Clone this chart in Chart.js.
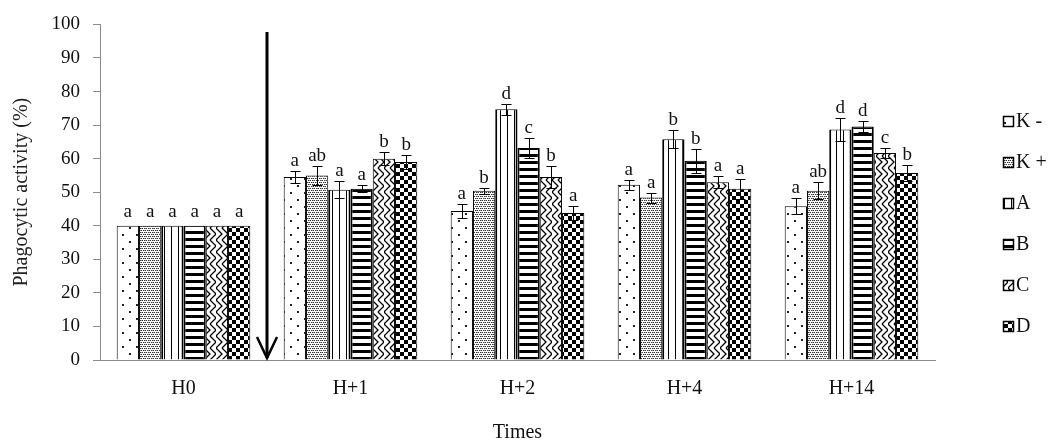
<!DOCTYPE html>
<html><head><meta charset="utf-8">
<script src="https://cdn.jsdelivr.net/npm/chart.js@4.4.1/dist/chart.umd.min.js"></script>
<style>html,body{margin:0;padding:0;background:#fff;} #wrap{width:1064px;height:447px;position:relative;}</style>
</head><body><div id="wrap"><canvas id="c" width="1064" height="447"></canvas></div>
<script>
const categories = ['H0', 'H+1', 'H+2', 'H+4', 'H+14'];
const seriesNames = ['K -', 'K +', 'A', 'B', 'C', 'D'];
const valuesKneg = [40, 54.5, 44.4, 52.2, 45.8];
const valuesKpos = [40, 55, 50.4, 48.4, 50.4];
const valuesA = [40, 50.7, 74.7, 65.8, 68.7];
const valuesB = [40, 51, 63.2, 59.4, 69.6];
const valuesC = [40, 60, 54.5, 53, 61.7];
const valuesD = [40, 59, 43.8, 51, 55.7];
const errKneg = [0, 1.8, 2, 1.5, 2.4];
const errKpos = [0, 2.8, 1, 1.5, 2.5];
const errA = [0, 2.5, 1.7, 2.7, 3.3];
const errB = [0, 1, 3, 3.6, 1.7];
const errC = [0, 2, 3.3, 1.8, 1.5];
const errD = [0, 2, 2, 3, 2.4];
const lettersKneg = ['a', 'a', 'a', 'a', 'a'];
const lettersKpos = ['a', 'ab', 'b', 'a', 'ab'];
const lettersA = ['a', 'a', 'd', 'b', 'd'];
const lettersB = ['a', 'a', 'c', 'b', 'd'];
const lettersC = ['a', 'b', 'b', 'a', 'c'];
const lettersD = ['a', 'b', 'a', 'a', 'b'];
const yTicks = [0, 10, 20, 30, 40, 50, 60, 70, 80, 90, 100];
const arrowTopValue = 97.7;

const SERIF = '"Liberation Serif", "Times New Roman", serif';
const mainCtx = document.getElementById('c').getContext('2d');

function makePattern(w, h, draw) {
  const c = document.createElement('canvas');
  c.width = w; c.height = h;
  const g = c.getContext('2d');
  g.fillStyle = '#fff'; g.fillRect(0, 0, w, h);
  g.fillStyle = '#000'; g.strokeStyle = '#000';
  draw(g);
  return mainCtx.createPattern(c, 'repeat');
}
const patKneg = makePattern(14, 14, g => { g.fillStyle = '#222'; g.fillRect(3, 3, 2, 2); g.fillRect(10, 10, 2, 2); });
const patKpos = makePattern(4, 4, g => { g.fillStyle = '#333'; g.fillRect(0, 0, 1, 1); g.fillRect(2, 0, 1, 1); g.fillRect(1, 2, 1, 1); g.fillRect(3, 2, 1, 1); g.fillStyle = '#999'; g.fillRect(1, 0, 1, 1); g.fillRect(0, 2, 1, 1); });
const patA = makePattern(7, 4, g => { g.fillRect(3, 0, 1, 4); });
const patB = makePattern(4, 7, g => { g.fillRect(0, 0, 4, 3); });
const patC = makePattern(12, 12, g => {
  g.lineWidth = 1.3;
  g.beginPath(); g.moveTo(0, 0); g.lineTo(6, 6); g.lineTo(0, 12);
  g.moveTo(6, 0); g.lineTo(12, 6); g.lineTo(6, 12); g.stroke();
});
const patD = makePattern(8, 8, g => { g.fillRect(0, 0, 4, 4); g.fillRect(4, 4, 4, 4); });

const seriesValues = [valuesKneg, valuesKpos, valuesA, valuesB, valuesC, valuesD];
const seriesErrors = [errKneg, errKpos, errA, errB, errC, errD];
const seriesLetters = [lettersKneg, lettersKpos, lettersA, lettersB, lettersC, lettersD];
const seriesPatterns = [patKneg, patKpos, patA, patB, patC, patD];

const datasets = seriesNames.map((name, i) => ({
  label: name,
  data: seriesValues[i],
  errors: seriesErrors[i],
  letters: seriesLetters[i],
  backgroundColor: seriesPatterns[i],
  borderColor: '#000',
  borderWidth: (i === 3 || i === 2) ? {left: 2, right: 2, top: 1, bottom: 0} : 1,
  borderSkipped: 'start',
  barPercentage: 1,
  categoryPercentage: 0.80
}));

const errPlugin = {
  id: 'errs',
  afterDatasetsDraw(chart) {
    const ctx = chart.ctx, ys = chart.scales.y;
    ctx.save();
    ctx.strokeStyle = '#000'; ctx.lineWidth = 1;
    ctx.fillStyle = '#111';
    ctx.font = '19px ' + SERIF;
    ctx.textAlign = 'center'; ctx.textBaseline = 'alphabetic';
    chart.data.datasets.forEach((ds, i) => {
      const meta = chart.getDatasetMeta(i);
      meta.data.forEach((bar, j) => {
        const v = ds.data[j], e = ds.errors[j];
        const x = Math.round(bar.x) + 0.5;
        const top = Math.round(ys.getPixelForValue(v + e)) + 0.5;
        const bot = Math.round(ys.getPixelForValue(v - e)) + 0.5;
        if (e > 0) {
          ctx.beginPath();
          ctx.moveTo(x, top); ctx.lineTo(x, bot);
          ctx.moveTo(x - 5, top); ctx.lineTo(x + 5, top);
          ctx.moveTo(x - 5, bot); ctx.lineTo(x + 5, bot);
          ctx.stroke();
        }
        ctx.fillText(ds.letters[j], bar.x, top - (e > 0 ? 6 : 10));
      });
    });
    ctx.restore();
  }
};

const arrowPlugin = {
  id: 'arrow',
  afterDraw(chart) {
    const ctx = chart.ctx, xs = chart.scales.x, ys = chart.scales.y;
    const x = Math.round((xs.getPixelForValue(0) + xs.getPixelForValue(1)) / 2);
    const y1 = ys.getPixelForValue(arrowTopValue);
    const y2 = ys.getPixelForValue(0) - 2;
    ctx.save();
    ctx.strokeStyle = '#000'; ctx.lineWidth = 3;
    ctx.beginPath(); ctx.moveTo(x, y1); ctx.lineTo(x, y2); ctx.stroke();
    ctx.lineWidth = 2.5;
    ctx.beginPath(); ctx.moveTo(x - 10, y2 - 21); ctx.lineTo(x, y2); ctx.lineTo(x + 10, y2 - 21); ctx.stroke();
    ctx.restore();
  }
};

const legendPlugin = {
  id: 'patLegend',
  afterDraw(chart) {
    const ctx = chart.ctx;
    const n = chart.data.datasets.length, gap = 41;
    const y0 = chart.height / 2 - gap * (n - 1) / 2;
    ctx.save();
    ctx.font = '20px ' + SERIF;
    ctx.textBaseline = 'middle'; ctx.textAlign = 'left';
    chart.data.datasets.forEach((ds, i) => {
      const cy = Math.round(y0 + i * gap);
      ctx.fillStyle = ds.backgroundColor;
      ctx.fillRect(1003, cy - 5, 11, 11);
      ctx.strokeStyle = '#000'; ctx.lineWidth = 1.5;
      ctx.strokeRect(1003.5, cy - 4.5, 10, 10);
      ctx.fillStyle = '#111';
      ctx.fillText(ds.label, 1016, cy + 1);
    });
    ctx.restore();
  }
};

new Chart(mainCtx, {
  type: 'bar',
  data: { labels: categories, datasets: datasets },
  options: {
    responsive: false,
    animation: false,
    layout: { padding: { left: 0, right: 129, top: 15, bottom: 0 } },
    plugins: { legend: { display: false }, tooltip: { enabled: false } },
    scales: {
      x: {
        grid: { display: false, drawTicks: false },
        border: { display: true, color: '#8c8c8c', width: 1 },
        ticks: { color: '#111', font: { family: SERIF, size: 20 }, padding: 17 },
        title: { display: true, text: 'Times', color: '#111', font: { family: SERIF, size: 20 }, padding: { top: 0, bottom: 2 } },
        afterFit(s) { s.height = 87; }
      },
      y: {
        min: 0, max: 100,
        afterBuildTicks(s) { s.ticks = yTicks.map(v => ({ value: v })); },
        grid: { drawOnChartArea: false, drawTicks: true, tickLength: 7, color: '#8c8c8c' },
        border: { display: true, color: '#8c8c8c', width: 1 },
        ticks: { color: '#111', font: { family: SERIF, size: 19 }, padding: 13 },
        title: { display: true, text: 'Phagocytic activity (%)', color: '#222', font: { family: SERIF, size: 20 }, padding: { top: 10, bottom: 0 } },
        afterFit(s) { s.width = 100; }
      }
    }
  },
  plugins: [errPlugin, arrowPlugin, legendPlugin]
});
</script>
</body></html>
